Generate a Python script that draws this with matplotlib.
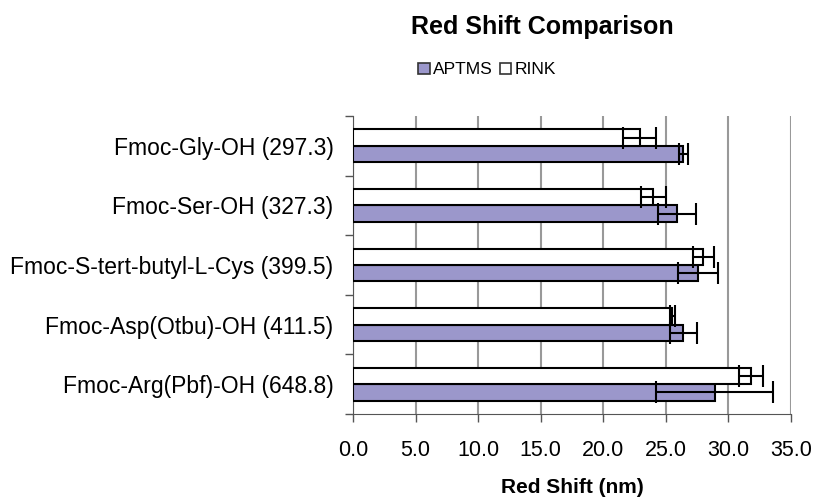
import numpy as np
import matplotlib
matplotlib.use('Agg')
import matplotlib.pyplot as plt
from matplotlib.patches import Patch

plt.rcParams['font.family'] = ['Liberation Sans', 'DejaVu Sans']

# data
compounds = ['Fmoc-Gly-OH (297.3)', 'Fmoc-Ser-OH (327.3)', 'Fmoc-S-tert-butyl-L-Cys (399.5)',
             'Fmoc-Asp(Otbu)-OH (411.5)', 'Fmoc-Arg(Pbf)-OH (648.8)']
aptms = [26.4, 25.9, 27.6, 26.4, 28.9]
aptms_err = [0.35, 1.5, 1.6, 1.1, 4.7]
rink = [22.9, 24.0, 28.0, 25.5, 31.8]
rink_err = [1.3, 1.0, 0.85, 0.2, 0.95]
xticks = [0, 5, 10, 15, 20, 25, 30, 35]

purple = '#9b97cb'

fig = plt.figure(figsize=(8.2, 5), dpi=100)
ax = fig.add_axes([0.4305, 0.172, 0.534, 0.596])

y = np.arange(len(compounds))
h = 0.275
err_kw = dict(ecolor='black', elinewidth=1.5, capsize=8, capthick=1.5)
ax.barh(y + h / 2, aptms, height=h, color=purple, edgecolor='black', linewidth=1.5,
        xerr=aptms_err, error_kw=err_kw, zorder=3)
ax.barh(y - h / 2, rink, height=h, color='white', edgecolor='black', linewidth=1.5,
        xerr=rink_err, error_kw=err_kw, zorder=3)

ax.set_xlim(0, 35)
ax.set_ylim(len(compounds) - 0.5, -0.5)
ax.set_xticks(xticks)
ax.set_xticklabels([f'{v:.1f}' for v in xticks], fontsize=15.5)
ax.set_yticks(y)
ax.set_yticklabels(compounds, fontsize=16.5)
ax.set_yticks(np.arange(len(compounds) + 1) - 0.5, minor=True)
ax.tick_params(axis='y', which='major', length=0, pad=14)
ax.tick_params(axis='y', which='minor', length=6, width=1, color='#555555', direction='out')
ax.tick_params(axis='x', length=6, width=1, color='#555555', direction='out', pad=13)

ax.grid(axis='x', color='#999999', linewidth=1.5, zorder=0)
ax.set_axisbelow(True)
for s in ['top', 'right']:
    ax.spines[s].set_visible(False)
ax.spines['left'].set_color('#555555')
ax.spines['bottom'].set_color('#555555')

ax.set_xlabel('Red Shift (nm)', fontsize=15, fontweight='bold', labelpad=12)

fig.text(0.661, 0.946, 'Red Shift Comparison', ha='center', va='center',
         fontsize=18, fontweight='bold')
handles = [Patch(facecolor=purple, edgecolor='#333333', linewidth=1.2, label='APTMS'),
           Patch(facecolor='white', edgecolor='#333333', linewidth=1.2, label='RINK')]
fig.legend(handles=handles, loc='center', bbox_to_anchor=(0.594, 0.86), ncol=2,
           frameon=False, fontsize=12.5, handlelength=0.65, handleheight=0.65,
           handletextpad=0.2, columnspacing=0.4)

fig.savefig('out.png', dpi=100)
